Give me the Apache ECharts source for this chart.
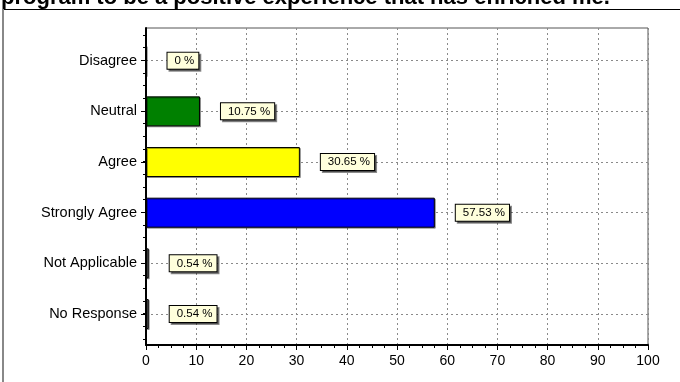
<!DOCTYPE html>
<html>
<head>
<meta charset="utf-8">
<style>
  html, body { margin: 0; padding: 0; background: #fff; }
  #chart { width: 680px; height: 382px; }
</style>
<script src="https://cdn.jsdelivr.net/npm/echarts@6/dist/echarts.min.js"></script>
</head>
<body>
<div id="chart"></div>
<script>
// Survey responses, listed bottom to top as drawn on the category axis
const categories = ['No Response', 'Not Applicable', 'Strongly Agree', 'Agree', 'Neutral', 'Disagree'];
const percentages = [0.54, 0.54, 57.53, 30.65, 10.75, 0];
const barColors = ['#808080', '#808080', '#0000FF', '#FFFF00', '#008000', '#FF0000'];
const xTicks = { min: 0, max: 100, step: 10 };
const titleText = 'program to be a positive experience that has enriched me.';

const FONT = '"Liberation Sans", Arial, sans-serif';
const L = 146, R = 32;
const dotted = { color: '#8a8a8a', width: 1, type: [2, 3] };

const chart = echarts.init(document.getElementById('chart'), null, { renderer: 'canvas' });

chart.setOption({
  backgroundColor: '#ffffff',
  animation: false,
  graphic: [
    { type: 'line', shape: { x1: 3, y1: 9.5, x2: 680, y2: 9.5 }, style: { stroke: '#000', lineWidth: 1 } },
    { type: 'line', shape: { x1: 3, y1: 9, x2: 3, y2: 382 }, style: { stroke: '#888', lineWidth: 2 } },
    { type: 'text', left: 1, top: -13, style: { text: titleText, font: 'bold 22px ' + FONT, fill: '#000' } }
  ],
  grid: [
    // plot frame, x scale and vertical grid
    { left: L, right: R, top: 28, bottom: 37, show: true, borderColor: '#555', borderWidth: 1, backgroundColor: '#fff', outerBoundsMode: 'none' },
    // fine tick marks along the category axis
    { left: L, right: R, top: 35, bottom: 43, outerBoundsMode: 'none' },
    // category centres
    { left: L, right: R, top: 60.7, bottom: 68, outerBoundsMode: 'none' }
  ],
  xAxis: [
    {
      gridIndex: 0, type: 'value', min: xTicks.min, max: xTicks.max, interval: xTicks.step,
      axisLine: { show: true, onZero: false, lineStyle: { color: '#000', width: 2 } },
      axisTick: { show: true, inside: false, length: 5, lineStyle: { color: '#000' } },
      minorTick: { show: true, splitNumber: 4, length: 3, lineStyle: { color: '#000' } },
      axisLabel: { color: '#000', fontFamily: FONT, fontSize: 14, margin: 9 },
      splitLine: { show: true, lineStyle: dotted }
    },
    { gridIndex: 1, type: 'value', min: xTicks.min, max: xTicks.max, show: false },
    { gridIndex: 2, type: 'value', min: xTicks.min, max: xTicks.max, show: false }
  ],
  yAxis: [
    {
      gridIndex: 0, type: 'value', min: 0, max: 1,
      axisLine: { show: true, onZero: false, lineStyle: { color: '#000', width: 2 } },
      axisTick: { show: false }, axisLabel: { show: false }, splitLine: { show: false }
    },
    {
      gridIndex: 1, type: 'value', min: -0.5, max: 5.5, interval: 0.25,
      axisLine: { show: false },
      axisTick: { show: true, length: 3, lineStyle: { color: '#000' } },
      axisLabel: { show: false }, splitLine: { show: false }
    },
    {
      gridIndex: 2, type: 'category', data: categories, boundaryGap: false,
      axisLine: { show: false },
      axisTick: { show: true, length: 5, lineStyle: { color: '#000' } },
      axisLabel: { color: '#000', fontFamily: FONT, fontSize: 14.5, margin: 9 },
      splitLine: { show: true, lineStyle: dotted }
    }
  ],
  series: [{
    type: 'bar',
    xAxisIndex: 2, yAxisIndex: 2,
    barWidth: 30,
    data: percentages.map((v, i) => ({ value: v, itemStyle: { color: barColors[i] } })),
    itemStyle: { borderColor: '#000', borderWidth: 1, shadowColor: 'rgba(0,0,0,0.35)', shadowOffsetX: 1, shadowOffsetY: 1 },
    label: {
      show: true, position: 'right', distance: 21,
      formatter: '{c} %',
      color: '#000', fontFamily: FONT, fontSize: 11.5, lineHeight: 13,
      backgroundColor: '#FFFFDC', borderColor: '#000', borderWidth: 1,
      padding: [2, 4, 1, 7],
      shadowColor: 'rgba(0,0,0,0.45)', shadowBlur: 0, shadowOffsetX: 2, shadowOffsetY: 2
    }
  }]
});
</script>
</body>
</html>
